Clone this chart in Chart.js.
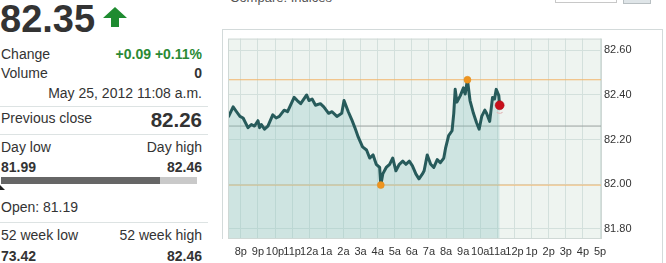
<!DOCTYPE html>
<html><head><meta charset="utf-8">
<script src="https://cdn.jsdelivr.net/npm/chart.js@4.4.1/dist/chart.umd.min.js"></script>
<style>
html,body{margin:0;padding:0;background:#fff;overflow:hidden;width:666px;height:263px;}
body{position:relative;font-family:"Liberation Sans",Arial,sans-serif;color:#333;}
.t{position:absolute;white-space:nowrap;line-height:1;font-size:14px;}
.r{text-align:right;left:0;width:202px;}
.l{left:1px;}
.b{font-weight:bold;}
.g{color:#2a8a34;}
.sep{position:absolute;left:0;width:208px;height:1px;background:#dde3e3;}
.ln{position:absolute;background:#d3dada;}
</style></head><body>
<div class="t b" style="left:0;top:-0.5px;font-size:38px;color:#333;">82.35</div>
<svg style="position:absolute;left:103px;top:7px" width="24" height="20" viewBox="0 0 24 20"><polygon points="12,0 24,11 16,11 16,20 8,20 8,11 0,11" fill="#1e8b30"/></svg>
<div class="t l" style="top:46.5px">Change</div>
<div class="t r b g" style="top:46.5px">+0.09 +0.11%</div>
<div class="t l" style="top:65.5px">Volume</div>
<div class="t r b" style="top:65.5px">0</div>
<div class="t r" style="top:85.7px">May 25, 2012 11:08 a.m.</div>
<div class="sep" style="top:106px"></div>
<div class="t l" style="top:111.2px">Previous close</div>
<div class="t r b" style="top:110.3px;font-size:20.5px">82.26</div>
<div class="sep" style="top:134px"></div>
<div class="t l" style="top:139.9px">Day low</div>
<div class="t r" style="top:139.9px">Day high</div>
<div class="t l b" style="top:159.9px">81.99</div>
<div class="t r b" style="top:159.9px">82.46</div>
<div style="position:absolute;left:1px;top:177px;width:159px;height:7px;background:#666"></div>
<div style="position:absolute;left:160px;top:177px;width:37px;height:7px;background:#c9c9c9"></div>
<svg style="position:absolute;left:0;top:185px" width="6" height="6"><polygon points="0,0 5,5 0,5" fill="#222"/></svg>
<div class="t l" style="top:199.9px">Open: 81.19</div>
<div class="sep" style="top:222px"></div>
<div class="t l" style="top:228.2px">52 week low</div>
<div class="t r" style="top:228.2px">52 week high</div>
<div class="t l b" style="top:248.9px">73.42</div>
<div class="t r b" style="top:248.9px">82.46</div>

<div class="t" style="left:230px;top:-9px;font-size:13px;color:#555">Compare: Indices</div>
<div style="position:absolute;left:555px;top:-10px;width:60px;height:11px;border:1px solid #c8c8c8;background:#fff"></div>
<div style="position:absolute;left:623px;top:-10px;width:26px;height:12px;border:1px solid #b8bfc2;background:#dfe5e8"></div>

<div class="ln" style="left:222px;top:29px;width:441px;height:1px"></div>
<div class="ln" style="left:222px;top:29px;width:1px;height:210px"></div>
<div class="ln" style="left:662px;top:29px;width:1px;height:234px"></div>
<canvas id="c" width="439" height="233" style="position:absolute;left:223px;top:30px;width:439px;height:233px"></canvas>
<script>
// minutes since 8:00 p.m.
const times = [-44,-27,-15,-3,8,25,37,48,60,66,72,83,95,112,124,135,152,164,187,198,210,231,239,250,262,279,291,308,320,337,354,362,377,389,400,412,427,441,452,464,475,487,491,498,510,522,533,544,556,568,579,591,602,614,625,637,643,654,666,677,689,700,712,718,729,741,747,752,758,770,781,787,795,804,816,827,836,845,856,862,873,883,890,896,905,908];
const prices = [82.30,82.346,82.324,82.303,82.296,82.253,82.267,82.26,82.284,82.253,82.267,82.246,82.26,82.31,82.296,82.303,82.331,82.324,82.388,82.374,82.36,82.399,82.374,82.381,82.353,82.36,82.346,82.317,82.324,82.303,82.317,82.374,82.324,82.289,82.253,82.21,82.167,82.153,82.117,82.131,82.089,82.075,81.996,82.046,82.075,82.089,82.117,82.06,82.089,82.103,82.089,82.103,82.082,82.046,82.024,82.046,82.06,82.131,82.089,82.075,82.11,82.096,82.117,82.16,82.217,82.239,82.317,82.424,82.367,82.396,82.431,82.403,82.467,82.374,82.317,82.275,82.246,82.303,82.331,82.317,82.281,82.388,82.381,82.424,82.396,82.353];
const hourLabels = ['8p','9p','10p','11p','12a','1a','2a','3a','4a','5a','6a','7a','8a','9a','10a','11a','12p','1p','2p','3p','4p','5p'];
const yTicks = [81.80,82.00,82.20,82.40,82.60];
const previousClose = [82.26];

const X_MIN = -45, X_MAX = 1267, Y_MIN = 81.755, Y_MAX = 82.651;
const pts = times.map((t,i)=>({x:t,y:prices[i]}));
const hi = Math.max(...prices), lo = Math.min(...prices);
const hiI = prices.indexOf(hi), loI = prices.indexOf(lo), lastI = prices.length-1;
const hline = (v,color,order)=>({type:'line',data:[{x:X_MIN,y:v},{x:X_MAX,y:v}],borderColor:color,borderWidth:1,pointRadius:0,fill:false,order});

Chart.defaults.font.family = '"Liberation Sans", Arial, sans-serif';
const bgPlugin = {
  id:'bg',
  beforeDraw(c){const a=c.chartArea,x=c.ctx;x.save();x.fillStyle='#eef4f0';x.fillRect(a.left,a.top,a.right-a.left,a.bottom-a.top);x.restore();},
  afterDraw(c){const a=c.chartArea,x=c.ctx;x.save();x.strokeStyle='#cfd8d5';x.lineWidth=1;x.strokeRect(a.left+0.5,a.top+0.5,a.right-a.left-1,a.bottom-a.top-1);
    const m=c.getDatasetMeta(0).data[lastI];
    x.strokeStyle='#e0b4b4';x.lineWidth=1.2;x.beginPath();x.arc(m.x,m.y+4,4,0.25*Math.PI,0.75*Math.PI);x.stroke();x.restore();}
};
new Chart(document.getElementById('c'),{
  type:'line',
  data:{datasets:[
    {data:pts,borderColor:'#275b5b',borderWidth:3,pointRadius:0,tension:0,fill:'start',backgroundColor:'rgba(140,196,194,0.32)',order:1,borderJoinStyle:'round'},
    hline(hi,'#f2b66c',3),
    hline(lo,'#f2b66c',3),
    hline(previousClose[0],'#9aa09e',3),
    {type:'scatter',data:[pts[hiI],pts[loI]],pointRadius:3.5,pointBackgroundColor:'#ee9520',pointBorderColor:'#e08a1a',pointBorderWidth:0.5,order:0},
    {type:'scatter',data:[pts[lastI]],pointRadius:4.5,pointBackgroundColor:'#c8101c',pointBorderColor:'#a80c16',pointBorderWidth:0.5,order:-1}
  ]},
  options:{
    responsive:false,animation:false,devicePixelRatio:1,
    layout:{padding:0},
    plugins:{legend:{display:false},tooltip:{enabled:false}},
    scales:{
      x:{type:'linear',min:X_MIN,max:X_MAX,
        afterBuildTicks:s=>{s.ticks=hourLabels.map((l,i)=>({value:i*60}));},
        afterFit:s=>{s.height=24;},
        ticks:{autoSkip:false,maxRotation:0,padding:6,color:'#333',font:{size:11},callback:v=>hourLabels[Math.round(v/60)]},
        grid:{color:'#d3e0dc',drawTicks:false},border:{display:false}},
      y:{type:'linear',position:'right',min:Y_MIN,max:Y_MAX,
        afterBuildTicks:s=>{s.ticks=yTicks.map(v=>({value:v}));},
        afterFit:s=>{s.width=60;},
        ticks:{padding:2,color:'#333',font:{size:11},callback:v=>v.toFixed(2)},
        grid:{color:'#d3e0dc',drawTicks:false},border:{display:false}}
    }
  },
  plugins:[bgPlugin]
});
</script>
</body></html>
